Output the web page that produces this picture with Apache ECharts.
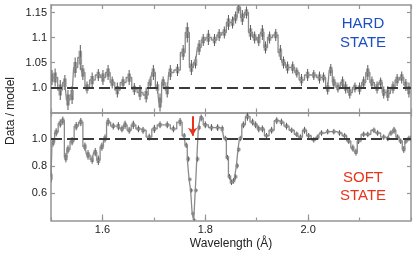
<!DOCTYPE html>
<html><head><meta charset="utf-8">
<script src="https://cdn.jsdelivr.net/npm/echarts@6/dist/echarts.min.js"></script>
<style>html,body{margin:0;padding:0;background:#fff}#c{width:420px;height:256px}</style>
</head><body><div id="c"></div>
<script>
// ---- HARD STATE (top panel) ----
const topX = [1.502,1.508,1.518,1.527,1.533,1.541,1.547,1.557,1.562,1.570,1.580,1.592,1.601,1.611,1.619,1.629,1.640,1.652,1.662,1.673,1.685,1.693,1.699,1.707,1.712,1.718,1.726,1.732,1.746,1.757,1.765,1.773,1.781,1.788,1.796,1.806,1.818,1.827,1.837,1.845,1.853,1.859,1.865,1.872,1.880,1.888,1.896,1.904,1.911,1.917,1.925,1.937,1.946,1.952,1.960,1.970,1.978,1.987,1.999,2.011,2.022,2.030,2.038,2.044,2.050,2.058,2.067,2.073,2.081,2.091,2.100,2.108,2.116,2.124,2.134,2.141,2.147,2.155,2.165,2.173,2.182,2.190,2.196];
const topV = [1.02,1.02,0.995,1.01,0.975,0.985,1.04,1.06,1.03,1.0,1.015,1.025,1.02,1.03,1.01,0.995,1.01,1.02,0.997,0.99,0.985,1.01,1.03,1.0,0.97,1.01,0.995,1.03,1.035,1.07,1.11,1.04,1.05,1.08,1.095,1.1,1.095,1.105,1.11,1.13,1.13,1.14,1.16,1.14,1.15,1.11,1.1,1.095,1.11,1.08,1.1,1.105,1.07,1.05,1.04,1.04,1.03,1.015,1.025,1.025,1.02,1.02,0.998,1.035,1.01,1.0,1.01,1.0,0.99,1.0,0.998,1.01,1.03,1.01,1.0,1.01,0.99,0.988,1.0,1.015,1.02,1.005,0.995];
const topErr = [0.015,0.018,0.02,0.015,0.02,0.018,0.02,0.025,0.015,0.012,0.015,0.012,0.015,0.015,0.012,0.015,0.012,0.015,0.012,0.015,0.015,0.012,0.015,0.012,0.018,0.012,0.015,0.015,0.012,0.015,0.02,0.015,0.012,0.015,0.012,0.015,0.012,0.012,0.012,0.015,0.012,0.012,0.012,0.015,0.012,0.015,0.012,0.012,0.015,0.012,0.012,0.012,0.015,0.012,0.012,0.012,0.01,0.012,0.012,0.01,0.012,0.01,0.012,0.012,0.012,0.01,0.012,0.012,0.012,0.01,0.012,0.012,0.015,0.012,0.012,0.01,0.012,0.015,0.012,0.012,0.012,0.012,0.015];
// ---- SOFT STATE (bottom panel) ----
const botX = [1.500,1.504,1.510,1.518,1.523,1.529,1.533,1.541,1.549,1.558,1.566,1.572,1.580,1.586,1.592,1.599,1.605,1.611,1.621,1.631,1.638,1.644,1.652,1.660,1.670,1.679,1.691,1.701,1.712,1.726,1.738,1.751,1.759,1.763,1.767,1.770,1.773,1.776,1.779,1.782,1.785,1.788,1.792,1.800,1.812,1.824,1.833,1.839,1.843,1.847,1.851,1.855,1.859,1.862,1.865,1.868,1.874,1.882,1.892,1.898,1.904,1.911,1.919,1.929,1.939,1.948,1.958,1.968,1.978,1.985,1.993,2.001,2.011,2.019,2.026,2.038,2.050,2.061,2.071,2.079,2.087,2.093,2.098,2.108,2.116,2.128,2.135,2.147,2.155,2.161,2.167,2.174,2.180,2.186,2.190,2.196,2.200];
const botV = [0.72,0.97,1.045,1.11,1.13,0.86,0.92,0.98,1.09,1.12,0.94,0.88,0.845,0.9,0.84,0.94,1.0,1.12,1.09,1.09,1.07,1.1,1.06,1.1,1.07,1.06,1.01,1.07,1.1,1.1,1.07,1.12,1.02,0.95,0.85,0.7,0.62,0.45,0.40,0.62,0.85,1.08,1.15,1.1,1.08,1.08,1.07,1.0,0.86,0.72,0.68,0.69,0.72,0.8,0.92,1.0,1.1,1.16,1.12,1.1,1.07,1.07,1.02,1.06,1.13,1.12,1.09,1.06,1.03,1.01,1.06,1.02,0.99,1.01,1.04,1.05,1.05,1.04,1.02,0.98,0.93,0.9,0.98,1.03,1.03,1.06,1.04,1.01,1.0,1.04,1.06,1.01,0.98,0.92,0.98,1.0,1.0];
const botErr = [0.04,0.03,0.03,0.03,0.03,0.035,0.03,0.03,0.03,0.03,0.03,0.035,0.03,0.03,0.035,0.03,0.03,0.03,0.025,0.03,0.025,0.03,0.025,0.03,0.025,0.025,0.025,0.03,0.025,0.025,0.025,0.03,0.02,0.02,0.02,0.015,0.015,0.015,0.015,0.015,0.02,0.02,0.025,0.025,0.025,0.025,0.025,0.02,0.02,0.02,0.02,0.02,0.02,0.02,0.02,0.02,0.025,0.03,0.025,0.025,0.025,0.025,0.02,0.025,0.025,0.025,0.025,0.02,0.02,0.02,0.025,0.02,0.02,0.02,0.02,0.02,0.02,0.02,0.02,0.02,0.025,0.025,0.02,0.02,0.02,0.02,0.02,0.02,0.02,0.02,0.025,0.02,0.02,0.025,0.02,0.02,0.02];
// ---- axes / annotations ----
const xTickLabels = [1.6, 1.8, 2.0];
const topTicks = [1.0, 1.05, 1.1, 1.15];
const botTicks = [0.6, 0.8, 1.0];
const arrowAt = [1.7754, 1.163, 1.02];
const refLevel = 1.0;

const frame = '#959595';
const txt = '#222';
const FONT = '"Liberation Sans", Arial, sans-serif';

function xAx(grid, pos, opts) {
  return Object.assign({
    gridIndex: grid, type: 'value', min: 1.5, max: 2.2, interval: 0.1, position: pos,
    axisLine: {show: true, onZero: false, lineStyle: {color: frame, width: 1.5}},
    axisTick: {show: true, inside: true, length: 4, lineStyle: {color: frame, width: 1.2}},
    axisLabel: {show: false}, splitLine: {show: false}
  }, opts || {});
}
function yAx(grid, pos, min, max, interval, ticks, showLabels) {
  return {
    gridIndex: grid, type: 'value', min: min, max: max, interval: interval, position: pos,
    axisLine: {show: true, onZero: false, lineStyle: {color: frame, width: 1.5}},
    axisTick: {show: true, inside: true, length: 4, customValues: ticks, lineStyle: {color: frame, width: 1.2}},
    axisLabel: {show: showLabels, customValues: ticks, fontSize: 11, color: txt, fontFamily: FONT, margin: 4,
      formatter: v => (Math.abs(v - 1) < 1e-9 ? '1.0' : String(+(+v).toFixed(2)))},
    splitLine: {show: false}
  };
}
function errItem(lineColor) {
  return function (params, api) {
    const x = api.value(0), y = api.value(1), e = api.value(2);
    const a = api.coord([x, y + e]), b = api.coord([x, y - e]);
    const r1 = api.coord([x, y + e * 0.55]), r2 = api.coord([x, y - e * 0.55]);
    return {type: 'group', children: [
      {type: 'rect', shape: {x: r1[0] - 1.8, y: r1[1], width: 3.6, height: Math.max(2, r2[1] - r1[1])}, style: {fill: '#a3a3a3'}},
      {type: 'line', shape: {x1: a[0], y1: a[1], x2: b[0], y2: b[1]}, style: {stroke: lineColor, lineWidth: 1}}
    ]};
  };
}
const dash = {yAxis: refLevel, lineStyle: {type: [11, 5], color: '#3a3a3a', width: 1.8}};

const chart = echarts.init(document.getElementById('c'), null, {renderer: 'canvas'});
chart.setOption({
  animation: false,
  textStyle: {fontFamily: FONT},
  grid: [
    {left: 51, top: 5, width: 360, height: 107.5},
    {left: 51, top: 112.5, width: 360, height: 108}
  ],
  xAxis: [
    xAx(0, 'bottom'),
    xAx(0, 'top'),
    xAx(1, 'bottom', {axisTick: {show: true, inside: true, length: 3, lineStyle: {color: frame, width: 1.2}},
      axisLabel: {show: true, customValues: xTickLabels, fontSize: 11, color: txt, fontFamily: FONT, margin: 4,
        formatter: v => (+v).toFixed(1)}}),
    xAx(1, 'top'),
    xAx(1, 'bottom', {axisLine: {show: false}, axisTick: {show: true, inside: true, length: 6, customValues: xTickLabels, lineStyle: {color: frame, width: 1.2}}})
  ],
  yAxis: [
    yAx(0, 'left', 0.95, 1.165, 0.05, topTicks, true),
    yAx(0, 'right', 0.95, 1.165, 0.05, topTicks, false),
    yAx(1, 'left', 0.4, 1.19, 0.2, botTicks, true),
    yAx(1, 'right', 0.4, 1.19, 0.2, botTicks, false)
  ],
  series: [
    {type: 'line', xAxisIndex: 0, yAxisIndex: 0, step: 'middle', symbol: 'none', clip: true,
      data: topX.map((x, i) => [x, topV[i]]),
      lineStyle: {color: '#8a8a8a', width: 1.3}, z: 3,
      markLine: {silent: true, symbol: ['none', 'none'], label: {show: false}, data: [dash], z: 5}},
    {type: 'custom', xAxisIndex: 0, yAxisIndex: 0, clip: true, z: 2,
      data: topX.map((x, i) => [x, topV[i], topErr[i]]), renderItem: errItem('#5a5a5a')},
    {type: 'line', xAxisIndex: 2, yAxisIndex: 2, step: 'middle', symbol: 'none', clip: true,
      data: botX.map((x, i) => [x, botV[i]]),
      lineStyle: {color: '#8a8a8a', width: 1.3}, z: 3,
      markLine: {silent: true, symbol: ['none', 'none'], label: {show: false}, data: [dash], z: 5}},
    {type: 'custom', xAxisIndex: 2, yAxisIndex: 2, clip: true, z: 2,
      data: botX.map((x, i) => [x, botV[i], botErr[i]]), renderItem: errItem('#5a5a5a'),
      markLine: {silent: true, label: {show: false}, z: 6,
        data: [[
          {coord: [arrowAt[0], arrowAt[1]], symbol: 'none', lineStyle: {color: '#e8341c', width: 2, type: 'solid'}},
          {coord: [arrowAt[0], arrowAt[2]], symbol: 'arrow', symbolSize: [7, 8]}
        ]]}}
  ],
  graphic: [
    {type: 'text', x: 11, y: 111, rotation: Math.PI / 2,
      style: {text: 'Data / model', fontSize: 12, fill: txt, fontFamily: FONT, textAlign: 'center', textVerticalAlign: 'middle'}},
    {type: 'text', x: 231, y: 244,
      style: {text: 'Wavelength (Å)', fontSize: 12, fill: txt, fontFamily: FONT, textAlign: 'center', textVerticalAlign: 'middle'}},
    {type: 'text', x: 363, y: 33.5,
      style: {text: 'HARD\nSTATE', fontSize: 15, lineHeight: 18.7, fill: '#1d4fc4', fontFamily: FONT, textAlign: 'center', textVerticalAlign: 'middle'}},
    {type: 'text', x: 363, y: 186.7,
      style: {text: 'SOFT\nSTATE', fontSize: 15, lineHeight: 18, fill: '#e8341c', fontFamily: FONT, textAlign: 'center', textVerticalAlign: 'middle'}}
  ]
});
</script></body></html>
